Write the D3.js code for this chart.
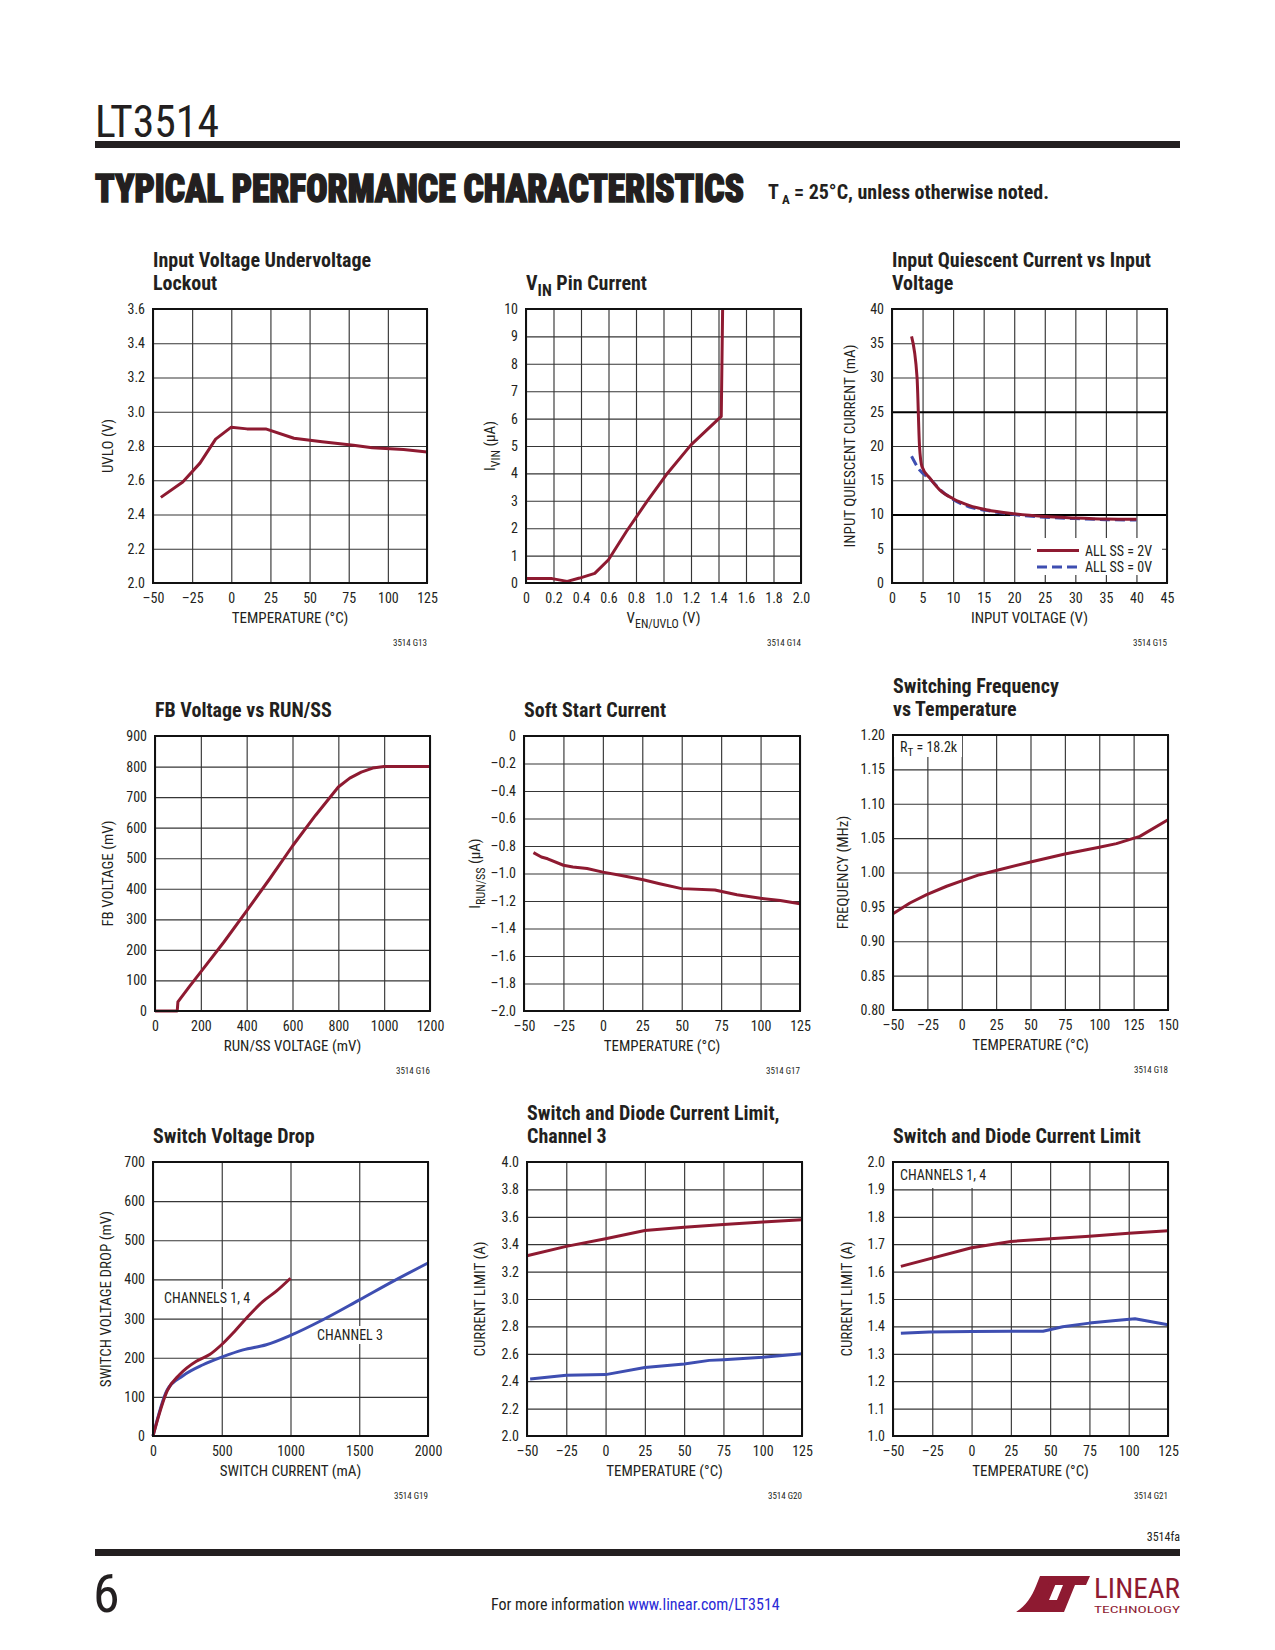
<!DOCTYPE html>
<html><head><meta charset="utf-8">
<script src="https://cdn.jsdelivr.net/npm/d3@7"></script>
<style>
body{margin:0;background:#fff;}
</style></head><body>
<svg id="page" width="1275" height="1650" xmlns="http://www.w3.org/2000/svg"></svg>
<script>
// ---------------- DATA ----------------
// G13 Input Voltage Undervoltage Lockout
const uvloTemp = [-45, -31, -20, -10, 0, 10, 22, 40, 58, 78, 90, 110, 125];
const uvloVolt = [2.50, 2.59, 2.70, 2.84, 2.91, 2.90, 2.90, 2.845, 2.825, 2.805, 2.79, 2.78, 2.765];
const uvloXTicks = [-50, -25, 0, 25, 50, 75, 100, 125];
const uvloYTicks = [2.0, 2.2, 2.4, 2.6, 2.8, 3.0, 3.2, 3.4, 3.6];

// G14 VIN Pin Current
const vinEn = [0, 0.19, 0.30, 0.39, 0.50, 0.60, 0.73, 0.88, 1.02, 1.20, 1.42, 1.43];
const vinCurrent = [0.16, 0.16, 0.06, 0.18, 0.35, 0.85, 1.88, 2.98, 3.95, 5.04, 6.08, 10];
const vinXTicks = [0, 0.2, 0.4, 0.6, 0.8, 1.0, 1.2, 1.4, 1.6, 1.8, 2.0];
const vinYTicks = [0, 1, 2, 3, 4, 5, 6, 7, 8, 9, 10];

// G15 Input Quiescent Current vs Input Voltage
const iqVinSS2 = [3.2, 4.1, 4.5, 4.9, 6.2, 7.8, 10, 12.7, 15.4, 20, 25, 30, 35, 40];
const iqSS2 = [36, 30, 20, 17, 15.3, 13.6, 12.3, 11.3, 10.7, 10.1, 9.7, 9.5, 9.35, 9.3];
const iqVinSS0 = [3.2, 4.5, 6.2, 7.8, 10, 12.7, 15.4, 20, 25, 30, 35, 40];
const iqSS0 = [18.5, 16.5, 15.2, 13.7, 12.2, 11.1, 10.6, 10.0, 9.6, 9.4, 9.25, 9.2];
const iqXTicks = [0, 5, 10, 15, 20, 25, 30, 35, 40, 45];
const iqYTicks = [0, 5, 10, 15, 20, 25, 30, 35, 40];
const iqLegend = ["ALL SS = 2V", "ALL SS = 0V"];

// G16 FB Voltage vs RUN/SS
const fbRunSS = [0, 97, 100, 150, 200, 300, 400, 500, 600, 700, 800, 850, 900, 950, 1000, 1200];
const fbVolt = [0, 0, 30, 80, 128, 225, 328, 432, 540, 640, 733, 762, 782, 795, 800, 800];
const fbXTicks = [0, 200, 400, 600, 800, 1000, 1200];
const fbYTicks = [0, 100, 200, 300, 400, 500, 600, 700, 800, 900];

// G17 Soft Start Current
const ssTemp = [-44, -39, -35, -25, -19, -10, 0, 11, 25.6, 36, 50, 71, 85, 100, 112.5, 125];
const ssCurrent = [-0.848, -0.88, -0.893, -0.94, -0.953, -0.964, -0.99, -1.013, -1.045, -1.074, -1.11, -1.12, -1.155, -1.18, -1.197, -1.22];
const ssXTicks = [-50, -25, 0, 25, 50, 75, 100, 125];
const ssYTicks = [0, -0.2, -0.4, -0.6, -0.8, -1.0, -1.2, -1.4, -1.6, -1.8, -2.0];

// G18 Switching Frequency vs Temperature
const freqTemp = [-50, -37.7, -25.5, -11, 1, 13, 25, 50, 75, 100, 112.5, 129.5, 150];
const freqMHz = [0.940, 0.9556, 0.9678, 0.980, 0.9886, 0.9968, 1.003, 1.0153, 1.0269, 1.0366, 1.042, 1.0526, 1.0768];
const freqXTicks = [-50, -25, 0, 25, 50, 75, 100, 125, 150];
const freqYTicks = [0.80, 0.85, 0.90, 0.95, 1.00, 1.05, 1.10, 1.15, 1.20];

// G19 Switch Voltage Drop
const dropI14 = [0, 104, 194, 315, 412, 504, 582, 679, 800, 897, 1000];
const dropV14 = [0, 116, 157, 191, 208, 235, 263, 301, 344, 370, 403];
const dropI3 = [0, 104, 218, 364, 504, 655, 824, 1000, 1236, 1498, 1745, 2000];
const dropV3 = [0, 118, 154, 182, 202, 220, 233, 257, 297, 347, 395, 442];
const dropXTicks = [0, 500, 1000, 1500, 2000];
const dropYTicks = [0, 100, 200, 300, 400, 500, 600, 700];

// G20 Switch and Diode Current Limit, Channel 3
const cl3TempSw = [-50, -25, 0, 25, 50, 75, 100, 125];
const cl3Switch = [3.316, 3.384, 3.44, 3.50, 3.523, 3.543, 3.562, 3.579];
const cl3TempDi = [-48, -25, 0, 25, 50, 66, 75, 100, 125];
const cl3Diode = [2.416, 2.443, 2.448, 2.50, 2.526, 2.552, 2.557, 2.574, 2.60];
const cl3XTicks = [-50, -25, 0, 25, 50, 75, 100, 125];
const cl3YTicks = [2.0, 2.2, 2.4, 2.6, 2.8, 3.0, 3.2, 3.4, 3.6, 3.8, 4.0];

// G21 Switch and Diode Current Limit, Channels 1, 4
const cl14TempSw = [-45, 0, 25, 50, 75, 100, 125];
const cl14Switch = [1.619, 1.687, 1.710, 1.720, 1.729, 1.740, 1.749];
const cl14TempDi = [-45, -27, 0, 25, 45.5, 58, 75, 90, 104, 125];
const cl14Diode = [1.375, 1.380, 1.381, 1.382, 1.382, 1.399, 1.412, 1.421, 1.428, 1.406];
const cl14XTicks = [-50, -25, 0, 25, 50, 75, 100, 125];
const cl14YTicks = [1.0, 1.1, 1.2, 1.3, 1.4, 1.5, 1.6, 1.7, 1.8, 1.9, 2.0];

// ---------------- DRAWING ----------------
const FONT = '"Liberation Sans Narrow","Arial Narrow","Nimbus Sans Narrow","Roboto Condensed","Liberation Sans",sans-serif';
const RED = "#8e1a31", BLUE = "#3e4eb1", GRID = "#363636", INK = "#231f20";
const TICK_FS = 14, LABEL_FS = 15, TITLE_FS = 20;
const svg = d3.select("#page");
svg.append("rect").attr("width", 1275).attr("height", 1650).attr("fill", "#fff");

const zip = (a, b) => a.map((v, i) => [v, b[i]]);
const dash = s => String(s).replace(/[-\u2212]/g, "\u2013");
const fInt = d => dash(d3.format("d")(d));
const f1 = d => dash(d3.format(".1f")(d));
const f1z = d => d === 0 ? "0" : dash(d3.format(".1f")(d));
const f2 = d => d3.format(".2f")(d);

function rich(t, s, fs) {
  const parts = s.split(/(_\{[^}]*\})/);
  let shifted = false;
  const sh = fs * 0.3;
  parts.forEach(p => {
    if (!p) return;
    if (p.startsWith("_{")) {
      t.append("tspan").attr("dy", shifted ? null : sh).attr("font-size", fs * 0.8).text(p.slice(2, -1));
      shifted = true;
    } else {
      t.append("tspan").attr("dy", shifted ? -sh : null).text(p);
      shifted = false;
    }
  });
}

function drawChart(o) {
  const b = o.box;
  const g = svg.append("g");
  const x = d3.scaleLinear().domain(o.xDomain).range([b.l, b.r]);
  const y = d3.scaleLinear().domain(o.yDomain).range([b.b, b.t]);
  const w = b.r - b.l, h = b.b - b.t;

  const xa = g.append("g").attr("transform", `translate(0,${b.b})`)
    .call(d3.axisBottom(x).tickValues(o.xTicks).tickFormat(o.xFmt).tickSize(-h).tickPadding(10.5));
  const ya = g.append("g").attr("transform", `translate(${b.l},0)`)
    .call(d3.axisLeft(y).tickValues(o.yTicks).tickFormat(o.yFmt).tickSize(-w).tickPadding(8));
  [xa, ya].forEach(a => {
    a.attr("font-family", FONT).attr("font-size", TICK_FS).attr("color", INK);
    a.select(".domain").remove();
    a.selectAll("line").attr("stroke", GRID).attr("stroke-width", 1.15);
  });
  if (o.heavyY) ya.selectAll(".tick").filter(d => o.heavyY.includes(d)).select("line")
    .attr("stroke", "#000").attr("stroke-width", 2.2);

  (o.masks || []).forEach(m => g.append("rect").attr("x", m[0]).attr("y", m[1]).attr("width", m[2]).attr("height", m[3]).attr("fill", "#fff"));

  (o.notes || []).forEach(n => {
    const t = g.append("text").attr("x", n.x).attr("y", n.y).attr("font-family", FONT).attr("font-size", TICK_FS).attr("fill", INK);
    rich(t, n.text, TICK_FS);
    if (n.bg) {
      const bb = t.node().getBBox();
      g.insert("rect", () => t.node()).attr("x", bb.x - 3).attr("y", bb.y - 1)
        .attr("width", bb.width + 6).attr("height", bb.height + 2).attr("fill", "#fff");
    }
  });

  (o.series || []).forEach(s => {
    g.append("path").datum(s.data)
      .attr("d", d3.line().x(d => x(d[0])).y(d => y(d[1])).curve(s.curve || d3.curveLinear))
      .attr("fill", "none").attr("stroke", s.color).attr("stroke-width", 3)
      .attr("stroke-linejoin", "round").attr("stroke-dasharray", s.dash || null);
  });

  if (o.legend) o.legend(g);

  g.append("rect").attr("x", b.l).attr("y", b.t).attr("width", w).attr("height", h)
    .attr("fill", "none").attr("stroke", "#111").attr("stroke-width", 2);

  // titles
  const n = o.title.length;
  o.title.forEach((line, i) => {
    const t = g.append("text").attr("x", b.l).attr("y", b.t - 19 - (n - 1 - i) * 23)
      .attr("font-family", FONT).attr("font-weight", "bold").attr("font-size", TITLE_FS).attr("fill", INK);
    rich(t, line, TITLE_FS);
  });
  // x title
  const xt = g.append("text").attr("x", (b.l + b.r) / 2).attr("y", b.b + 40).attr("text-anchor", "middle")
    .attr("font-family", FONT).attr("font-size", LABEL_FS).attr("fill", INK);
  rich(xt, o.xTitle, LABEL_FS);
  // y title
  const cy = (b.t + b.b) / 2, cx = b.l - o.yTitleOff;
  const yt = g.append("text").attr("transform", `translate(${cx + 5},${cy}) rotate(-90)`).attr("text-anchor", "middle")
    .attr("font-family", FONT).attr("font-size", LABEL_FS).attr("fill", INK);
  rich(yt, o.yTitle, LABEL_FS);
  // code
  g.append("text").attr("x", b.r).attr("y", b.b + 63).attr("text-anchor", "end")
    .attr("font-family", FONT).attr("font-size", 9).attr("fill", INK).text(o.code);
  return {x, y};
}

// Header
svg.append("text").attr("x", 95).attr("y", 137).attr("font-family", FONT).attr("font-size", 44)
  .attr("fill", INK).attr("textLength", 124).attr("lengthAdjust", "spacingAndGlyphs").text("LT3514");
svg.append("rect").attr("x", 95).attr("y", 141).attr("width", 1085).attr("height", 7).attr("fill", INK);
svg.append("text").attr("x", 95).attr("y", 202).attr("font-family", FONT).attr("font-weight", 900).attr("font-size", 39)
  .attr("fill", INK).attr("stroke", INK).attr("stroke-width", 1.6)
  .attr("textLength", 649).attr("lengthAdjust", "spacingAndGlyphs").text("TYPICAL PERFORMANCE CHARACTERISTICS");
{
  const hdr = svg.append("g").attr("font-family", FONT).attr("font-weight", "bold").attr("fill", INK);
  hdr.append("text").attr("x", 768).attr("y", 199).attr("font-size", 20).text("T");
  hdr.append("text").attr("x", 782).attr("y", 204).attr("font-size", 13).text("A");
  hdr.append("text").attr("x", 794).attr("y", 199).attr("font-size", 20)
    .attr("textLength", 255).attr("lengthAdjust", "spacingAndGlyphs").text("= 25°C, unless otherwise noted.");
}

// Charts
drawChart({
  box: {l: 153, r: 427, t: 309, b: 583}, xDomain: [-50, 125], yDomain: [2.0, 3.6],
  xTicks: uvloXTicks, yTicks: uvloYTicks, xFmt: fInt, yFmt: f1,
  title: ["Input Voltage Undervoltage", "Lockout"], xTitle: "TEMPERATURE (°C)", yTitle: "UVLO (V)",
  yTitleOff: 45, code: "3514 G13",
  series: [{data: zip(uvloTemp, uvloVolt), color: RED}]
});
drawChart({
  box: {l: 526, r: 801, t: 309, b: 583}, xDomain: [0, 2], yDomain: [0, 10],
  xTicks: vinXTicks, yTicks: vinYTicks, xFmt: f1z, yFmt: fInt,
  title: ["V_{IN} Pin Current"], xTitle: "V_{EN/UVLO} (V)", yTitle: "I_{VIN} (µA)",
  yTitleOff: 36, code: "3514 G14",
  series: [{data: zip(vinEn, vinCurrent), color: RED}]
});
drawChart({
  box: {l: 892, r: 1167, t: 309, b: 583}, xDomain: [0, 45], yDomain: [0, 40],
  xTicks: iqXTicks, yTicks: iqYTicks, xFmt: fInt, yFmt: fInt, heavyY: [10, 25],
  title: ["Input Quiescent Current vs Input", "Voltage"], xTitle: "INPUT VOLTAGE (V)", yTitle: "INPUT QUIESCENT CURRENT (mA)",
  yTitleOff: 42, code: "3514 G15",
  masks: [[1031, 538, 131, 37]],
  series: [{data: zip(iqVinSS0, iqSS0), color: BLUE, dash: "10,5", curve: d3.curveMonotoneX},
           {data: zip(iqVinSS2, iqSS2), color: RED, curve: d3.curveMonotoneX}],
  legend: g => {
    const rows = [{c: RED, d: null, yy: 550.5}, {c: BLUE, d: "10,5", yy: 567}];
    rows.forEach((r, i) => {
      g.append("line").attr("x1", 1037).attr("x2", 1079).attr("y1", r.yy).attr("y2", r.yy)
        .attr("stroke", r.c).attr("stroke-width", 3).attr("stroke-dasharray", r.d);
      g.append("text").attr("x", 1085).attr("y", r.yy + 5).attr("font-family", FONT).attr("font-size", TICK_FS)
        .attr("fill", INK).text(iqLegend[i]);
    });
  }
});
drawChart({
  box: {l: 155, r: 430, t: 736, b: 1011}, xDomain: [0, 1200], yDomain: [0, 900],
  xTicks: fbXTicks, yTicks: fbYTicks, xFmt: fInt, yFmt: fInt,
  title: ["FB Voltage vs RUN/SS"], xTitle: "RUN/SS VOLTAGE (mV)", yTitle: "FB VOLTAGE (mV)",
  yTitleOff: 47, code: "3514 G16",
  series: [{data: zip(fbRunSS, fbVolt), color: RED}]
});
drawChart({
  box: {l: 524, r: 800, t: 736, b: 1011}, xDomain: [-50, 125], yDomain: [-2, 0],
  xTicks: ssXTicks, yTicks: ssYTicks, xFmt: fInt, yFmt: f1z,
  title: ["Soft Start Current"], xTitle: "TEMPERATURE (°C)", yTitle: "I_{RUN/SS} (µA)",
  yTitleOff: 49, code: "3514 G17",
  series: [{data: zip(ssTemp, ssCurrent), color: RED}]
});
drawChart({
  box: {l: 893, r: 1168, t: 735, b: 1010}, xDomain: [-50, 150], yDomain: [0.8, 1.2],
  xTicks: freqXTicks, yTicks: freqYTicks, xFmt: fInt, yFmt: f2,
  title: ["Switching Frequency", "vs Temperature"], xTitle: "TEMPERATURE (°C)", yTitle: "FREQUENCY (MHz)",
  yTitleOff: 50, code: "3514 G18",
  masks: [[894, 736, 68, 21]],
  notes: [{x: 900, y: 752, text: "R_{T} = 18.2k"}],
  series: [{data: zip(freqTemp, freqMHz), color: RED}]
});
drawChart({
  box: {l: 153, r: 428, t: 1162, b: 1436}, xDomain: [0, 2000], yDomain: [0, 700],
  xTicks: dropXTicks, yTicks: dropYTicks, xFmt: fInt, yFmt: fInt,
  title: ["Switch Voltage Drop"], xTitle: "SWITCH CURRENT (mA)", yTitle: "SWITCH VOLTAGE DROP (mV)",
  yTitleOff: 47, code: "3514 G19",
  notes: [{x: 164, y: 1303, text: "CHANNELS 1, 4", bg: true}, {x: 317, y: 1340, text: "CHANNEL 3", bg: true}],
  series: [{data: zip(dropI3, dropV3), color: BLUE, curve: d3.curveMonotoneX},
           {data: zip(dropI14, dropV14), color: RED, curve: d3.curveMonotoneX}]
});
drawChart({
  box: {l: 527, r: 802, t: 1162, b: 1436}, xDomain: [-50, 125], yDomain: [2.0, 4.0],
  xTicks: cl3XTicks, yTicks: cl3YTicks, xFmt: fInt, yFmt: f1,
  title: ["Switch and Diode Current Limit,", "Channel 3"], xTitle: "TEMPERATURE (°C)", yTitle: "CURRENT LIMIT (A)",
  yTitleOff: 47, code: "3514 G20",
  series: [{data: zip(cl3TempSw, cl3Switch), color: RED}, {data: zip(cl3TempDi, cl3Diode), color: BLUE}]
});
drawChart({
  box: {l: 893, r: 1168, t: 1162, b: 1436}, xDomain: [-50, 125], yDomain: [1.0, 2.0],
  xTicks: cl14XTicks, yTicks: cl14YTicks, xFmt: fInt, yFmt: f1,
  title: ["Switch and Diode Current Limit"], xTitle: "TEMPERATURE (°C)", yTitle: "CURRENT LIMIT (A)",
  yTitleOff: 46, code: "3514 G21",
  masks: [[894, 1163, 114, 25]],
  notes: [{x: 900, y: 1180, text: "CHANNELS 1, 4"}],
  series: [{data: zip(cl14TempSw, cl14Switch), color: RED}, {data: zip(cl14TempDi, cl14Diode), color: BLUE}]
});

// Footer
svg.append("text").attr("x", 1180).attr("y", 1541).attr("text-anchor", "end").attr("font-family", FONT)
  .attr("font-size", 12).attr("fill", INK).text("3514fa");
svg.append("rect").attr("x", 95).attr("y", 1549).attr("width", 1085).attr("height", 7).attr("fill", INK);
svg.append("text").attr("x", 93).attr("y", 1612).attr("font-family", FONT).attr("font-size", 54).attr("fill", INK).text("6");
{
  const t = svg.append("text").attr("x", 491).attr("y", 1610).attr("font-family", FONT).attr("font-size", 16).attr("fill", INK);
  t.append("tspan").text("For more information ");
  t.append("tspan").attr("fill", "#2b2bd6").text("www.linear.com/LT3514");
}
// Logo
const LOGO = "#8e1a31";
svg.append("path").attr("fill", LOGO)
  .attr("d", "M1016,1612 C1026,1606 1032,1596 1036,1586 L1040,1576 L1059,1576 L1049,1600 L1061,1600 L1056,1612 Z");
svg.append("path").attr("fill", LOGO)
  .attr("d", "M1052,1576 L1090,1576 L1086,1585 L1075,1585 L1064,1612 L1052,1612 L1063,1585 L1048,1585 Z");
svg.append("text").attr("x", 1094).attr("y", 1598).attr("font-family", FONT).attr("font-size", 28)
  .attr("fill", LOGO).attr("textLength", 86).attr("lengthAdjust", "spacingAndGlyphs").text("LINEAR");
svg.append("text").attr("x", 1094).attr("y", 1613).attr("font-family", FONT).attr("font-size", 8.5)
  .attr("fill", LOGO).attr("textLength", 86).attr("lengthAdjust", "spacingAndGlyphs").text("TECHNOLOGY");
</script>
</body></html>
